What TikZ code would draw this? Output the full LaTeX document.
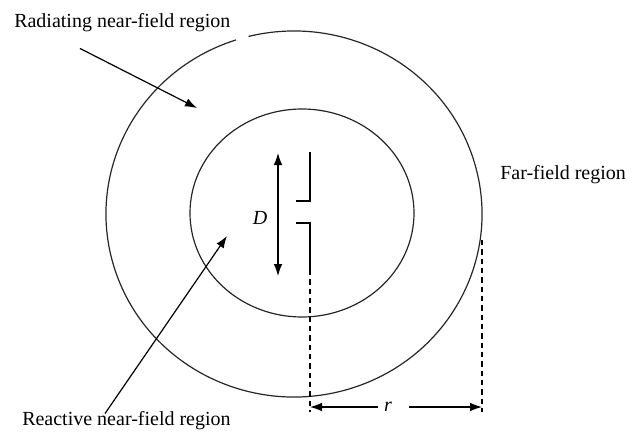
\documentclass[tikz,border=0pt]{standalone}
\usepackage{fontspec}
\setmainfont{Liberation Serif}
\usetikzlibrary{arrows.meta, positioning, calc}
\tikzset{
	region/.style   ={line width=0.9pt, draw=black!85},
	sig/.style      ={-{Latex[length=9pt, width=6.5pt]}, line width=0.9pt},
	dsig/.style     ={{Latex[length=9pt, width=6.5pt]}-{Latex[length=9pt, width=6.5pt]}, line width=0.9pt},
	feed/.style     ={line width=0.9pt},
	guide/.style    ={line width=0.8pt, dash pattern=on 4pt off 3pt},
	lbl/.style      ={inner sep=0pt, anchor=west, font=\fontsize{15}{18}\selectfont},
}
\begin{document}
\begin{tikzpicture}[x=0.75pt, y=0.75pt]
					\useasboundingbox (0,0) rectangle (632,433);
					% regions
					\coordinate (oc) at (294,219);
					\coordinate (ic) at (302,220);
					\draw[region] (oc) ++(108:188 and 183) arc[start angle=108, end angle=464, x radius=188, y radius=183];
					\draw[region] (ic) ellipse[x radius=112, y radius=104];
					% dipole
					\coordinate (dt) at (310,281);
					\coordinate (du) at (310,232);
					\coordinate (dl) at (310,210);
					\coordinate (db) at (310,163);
					\draw[feed] (dt) -- (du) -- ++(-14,0);
					\draw[feed] ($(dl)+(-14,0)$) -- (dl) -- (db);
					% size D
					\coordinate (dtop) at (278,280);
					\coordinate (dbot) at (278,157);
					\draw[dsig] (dtop) -- (dbot);
					\node[lbl, font=\fontsize{15}{18}\selectfont\itshape, anchor=center] (dlab) at (260,215) {D};
					% distance r
					\coordinate (rl) at (310,21);
					\coordinate (rr) at (482,21);
					\coordinate (re) at (482,193);
					\draw[guide] (db) -- (rl);
					\draw[guide] (re) -- (rr);
					\node[lbl, font=\fontsize{15}{18}\selectfont\itshape, anchor=center] (rlab) at (388,26) {r};
					\draw[sig] ($(rlab.west)+(-6,0)$) -- (rl |- rlab);
					\draw[sig] ($(rlab.east)+(17,0)$) -- (rr |- rlab);
					% region labels
					\node[lbl] (rad) at (14,410) {Radiating near-field region};
					\node[lbl] (far) at (500,258) {Far-field region};
					\node[lbl] (rea) at (22,12) {Reactive near-field region};
					\coordinate (radtip) at (197,325);
					\coordinate (reatip) at (227,197);
					\draw[sig] ($(rad.south west)+(66,-16)$) -- (radtip);
					\draw[sig] ($(rea.north west)+(83,-2)$) -- (reatip);
				\end{tikzpicture}
\end{document}
